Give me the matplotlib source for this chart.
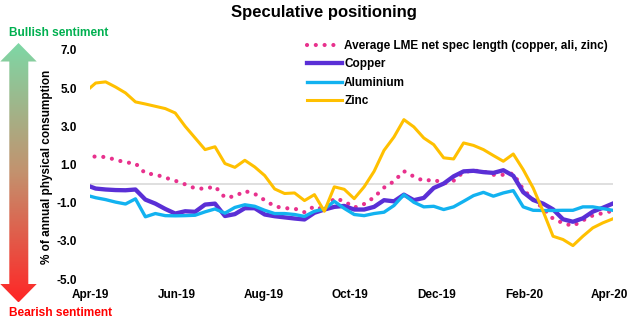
import matplotlib
matplotlib.use("Agg")
import matplotlib.pyplot as plt
import matplotlib.dates as mdates
from matplotlib.patches import Polygon
from matplotlib.colors import LinearSegmentedColormap
import numpy as np
import pandas as pd

plt.rcParams["font.family"] = ["Liberation Sans", "DejaVu Sans"]
plt.rcParams["font.weight"] = "bold"

# weekly (Friday) net spec positions, % of annual physical consumption
dates = pd.date_range("2019-03-29", periods=54, freq="W-FRI")

zinc = [4.82, 5.27, 5.33, 5.06, 4.75, 4.28, 4.17, 4.05, 3.93, 3.70,
        3.00, 2.39, 1.78, 1.93, 1.05, 0.85, 1.22, 0.87, 0.42, -0.28,
        -0.52, -0.49, -0.89, -0.58, -1.45, -0.17, -0.30, -0.79, -0.17, 0.64,
        1.74, 2.44, 3.35, 2.97, 2.39, 2.04, 1.35, 1.29, 2.13, 2.00,
        1.78, 1.47, 1.17, 1.55, 0.73, -0.23, -1.45, -2.76, -2.93, -3.25,
        -2.76, -2.32, -2.06, -1.85]

copper = [-0.07, -0.26, -0.31, -0.34, -0.35, -0.31, -0.84, -1.05, -1.33, -1.57,
          -1.45, -1.48, -1.10, -1.05, -1.70, -1.60, -1.29, -1.29, -1.62, -1.71,
          -1.77, -1.83, -1.88, -1.53, -1.36, -1.22, -1.17, -1.36, -1.36, -1.22,
          -0.87, -0.93, -0.58, -0.87, -0.75, -0.23, 0.00, 0.38, 0.64, 0.67,
          0.60, 0.56, 0.70, 0.41, -0.45, -0.86, -1.05, -1.35, -1.87, -2.00,
          -1.82, -1.47, -1.27, -1.05]

aluminium = [-0.60, -0.74, -0.84, -0.97, -1.07, -0.80, -1.74, -1.57, -1.68, -1.69,
             -1.68, -1.66, -1.48, -1.33, -1.55, -1.25, -1.11, -1.19, -1.40, -1.57,
             -1.57, -1.62, -1.72, -1.45, -1.33, -0.93, -1.30, -1.62, -1.68, -1.57,
             -1.50, -1.15, -0.58, -0.98, -1.22, -1.19, -1.36, -1.22, -0.93, -0.63,
             -0.46, -0.66, -0.49, -0.37, -1.22, -1.40, -1.41, -1.41, -1.40, -1.40,
             -1.22, -1.22, -1.31, -1.40]

average = [1.38, 1.42, 1.39, 1.25, 1.11, 1.06, 0.53, 0.48, 0.31, 0.15,
           -0.04, -0.25, -0.27, -0.15, -0.73, -0.67, -0.39, -0.54, -0.87, -1.19,
           -1.29, -1.31, -1.50, -1.19, -1.38, -0.77, -0.92, -1.26, -1.07, -0.72,
           -0.21, 0.12, 0.65, 0.37, 0.14, 0.21, 0.00, 0.15, 0.61, 0.68,
           0.64, 0.46, 0.46, 0.53, -0.31, -0.83, -1.30, -1.84, -2.07, -2.22,
           -1.93, -1.67, -1.55, -1.43]

yticks = [7.0, 5.0, 3.0, 1.0, -1.0, -3.0, -5.0]

W, H = 640, 328
fig = plt.figure(figsize=(W / 100, H / 100), dpi=100)

# sentiment arrow on the left, drawn in pixel coordinates
bg = fig.add_axes([0, 0, 1, 1])
bg.set_xlim(0, W)
bg.set_ylim(H, 0)
bg.axis("off")
arrow = Polygon([(18.5, 43), (36.7, 61.5), (28.3, 61.5), (28.3, 284), (36.7, 284),
                 (18.5, 302.5), (0.3, 284), (9.3, 284), (9.3, 61.5), (0.3, 61.5)],
                closed=True, facecolor="none", edgecolor="none")
bg.add_patch(arrow)
cmap = LinearSegmentedColormap.from_list(
    "sentiment", [(0.0, "#7dd8a6"), (0.5, "#c3926e"), (1.0, "#ff2626")])
grad = np.linspace(0, 1, 256).reshape(-1, 1)
img = bg.imshow(grad, cmap=cmap, aspect="auto", extent=(0, 40, 302.5, 43),
                interpolation="bilinear")
img.set_clip_path(arrow)
bg.text(9, 32.5, "Bullish sentiment", color="#00b050", fontsize=8.6,
        fontweight="bold", va="center", ha="left")
bg.text(9, 313.5, "Bearish sentiment", color="#ff0000", fontsize=8.6,
        fontweight="bold", va="center", ha="left")

ax = fig.add_axes([90 / W, 1 - 279 / H, 522.7 / W, 229 / H])
ax.set_zorder(2)
ax.patch.set_alpha(0)

ax.axhline(0, color="#d9d9d9", lw=1.2, zorder=1)
ax.plot(dates, average, color="#e8318d", lw=3.0, linestyle=(0, (0.01, 2.1)),
        dash_capstyle="round", label="Average LME net spec length (copper, ali, zinc)",
        zorder=2)
ax.plot(dates, copper, color="#5a2fd6", lw=3.1, label="Copper", zorder=3)
ax.plot(dates, aluminium, color="#12b2f0", lw=2.4, label="Aluminium", zorder=4)
ax.plot(dates, zinc, color="#ffc000", lw=2.2, label="Zinc", zorder=5)

ax.set_xlim(pd.Timestamp("2019-04-01"), pd.Timestamp("2020-04-03"))
ax.set_ylim(-5, 7)
ax.set_yticks(yticks)
ax.yaxis.set_major_formatter(plt.FuncFormatter(lambda v, p: f"{v:.1f}"))
ax.xaxis.set_major_locator(mdates.MonthLocator(bymonth=[2, 4, 6, 8, 10, 12]))
ax.xaxis.set_major_formatter(mdates.DateFormatter("%b-%y"))
ax.tick_params(axis="both", length=0, labelsize=8.5)
ax.tick_params(axis="y", pad=9.4)
ax.tick_params(axis="x", pad=7)
for lab in ax.get_xticklabels() + ax.get_yticklabels():
    lab.set_fontweight("bold")
for s in ax.spines.values():
    s.set_visible(False)

fig.text(47.5 / W, 1 - 167 / H, "% of annual physical consumption", rotation=90,
         ha="center", va="center", fontsize=8.5, fontweight="bold")
fig.text(323.7 / W, 1 - 12 / H, "Speculative positioning", ha="center",
         va="center", fontsize=12, fontweight="bold")

fig.legend(loc="upper left", bbox_to_anchor=(307 / W, 1 - 40 / H), frameon=False,
           prop={"size": 8.5, "weight": "bold"}, handlelength=3.0,
           handletextpad=0.15, borderpad=0, borderaxespad=0, labelspacing=0.55)

fig.savefig("out.png", dpi=100)
